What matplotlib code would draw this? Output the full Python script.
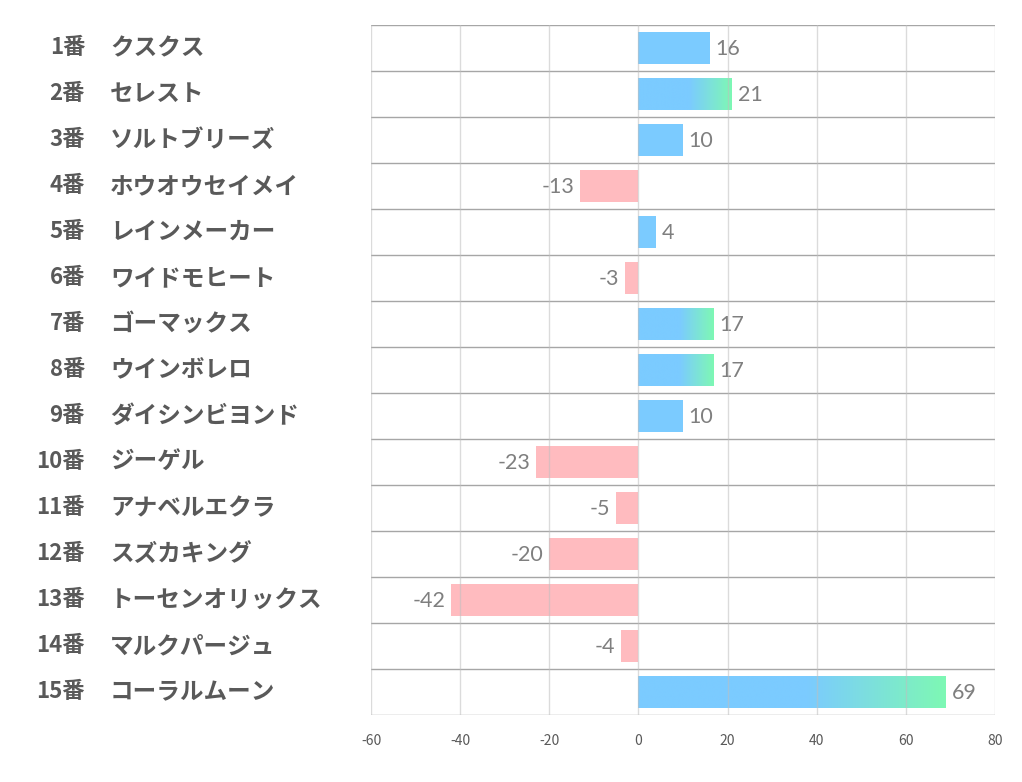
import numpy as np
import matplotlib.pyplot as plt
from matplotlib.colors import LinearSegmentedColormap
from matplotlib.transforms import blended_transform_factory

plt.rcParams['font.family'] = ['Noto Sans CJK JP', 'DejaVu Sans']

numbers = ["1番", "2番", "3番", "4番", "5番", "6番", "7番", "8番",
           "9番", "10番", "11番", "12番", "13番", "14番", "15番"]
names = ["クスクス", "セレスト", "ソルトブリーズ", "ホウオウセイメイ", "レインメーカー",
         "ワイドモヒート", "ゴーマックス", "ウインボレロ", "ダイシンビヨンド", "ジーゲル",
         "アナベルエクラ", "スズカキング", "トーセンオリックス", "マルクパージュ", "コーラルムーン"]
values = [16, 21, 10, -13, 4, -3, 17, 17, 10, -23, -5, -20, -42, -4, 69]
xticks = [-60, -40, -20, 0, 20, 40, 60, 80]

blue = "#7BCBFF"
green = "#7EF8B4"
pink = "#FFBBBF"

fig = plt.figure(figsize=(10.22, 7.82), dpi=100)
ax = fig.add_axes([371/1022, 1 - 715/782, 624/1022, 690/782])

# blue stays solid then fades to green on the longer bars
grad = LinearSegmentedColormap.from_list("bg", [(0, blue), (0.55, blue), (1, green)])
strip = np.linspace(0, 1, 256).reshape(1, -1)

h = 0.68
for i, v in enumerate(values):
    if v >= 17:
        ax.imshow(strip, cmap=grad, aspect='auto', extent=[0, v, i + h/2, i - h/2],
                  zorder=2, interpolation='bilinear')
    else:
        ax.barh(i, v, height=h, color=blue if v > 0 else pink, zorder=2)
    if v > 0:
        ax.annotate(str(v), (v, i), xytext=(4, -1), textcoords='offset points',
                    ha='left', va='center', fontsize=15.5, color='#7F7F7F', family='Lato')
    else:
        ax.annotate(str(v), (v, i), xytext=(-4, -1), textcoords='offset points',
                    ha='right', va='center', fontsize=15.5, color='#7F7F7F', family='Lato')

ax.set_xlim(-60, 80)
ax.set_ylim(14.5, -0.5)
ax.set_xticks(xticks)
ax.set_xticklabels([str(t) for t in xticks], fontsize=10, color='#595959')
ax.tick_params(axis='x', length=0, pad=14)
ax.set_yticks([])
for t in xticks:
    ax.axvline(t, color='#BFBFBF', lw=1, alpha=0.55, zorder=4)
for k in range(len(values) + 1):
    ax.axhline(k - 0.5, color='#A6A6A6', lw=1, zorder=3)
for s in ax.spines.values():
    s.set_visible(False)

tr = blended_transform_factory(fig.transFigure, ax.transData)
for i in range(len(values)):
    ax.text(85/1022, i, numbers[i], transform=tr, ha='right', va='center',
            fontsize=16, fontweight='bold', color='#595959')
    ax.text(110/1022, i, names[i], transform=tr, ha='left', va='center',
            fontsize=17, fontweight='bold', color='#595959')

fig.savefig("out.png", dpi=100)
